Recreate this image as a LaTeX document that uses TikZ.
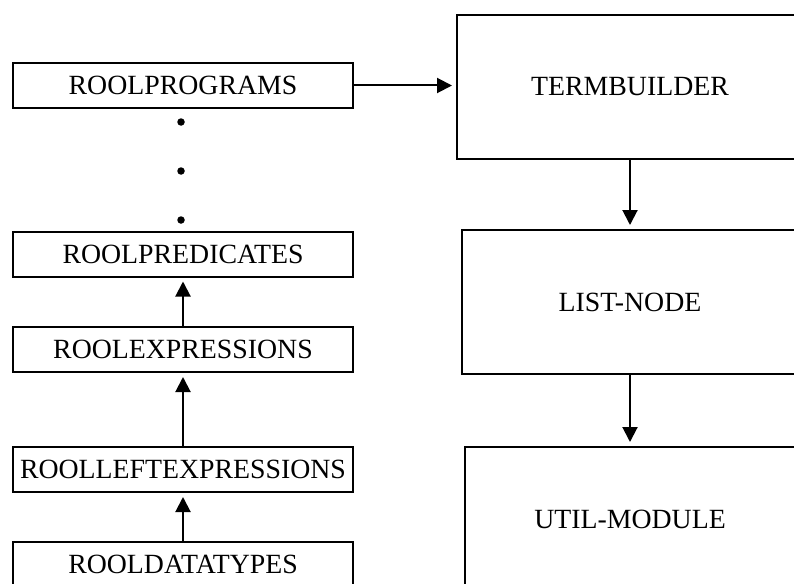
\documentclass[tikz,border=0pt]{standalone}
\usepackage{fontspec}
\setmainfont{Liberation Serif}
\usetikzlibrary{arrows.meta}
\begin{document}
\begin{tikzpicture}[x=1pt,y=-1pt,
  box/.style={draw, line width=2pt, rectangle, inner sep=0pt, font=\fontsize{27.8}{33}\selectfont},
  lbox/.style={box, minimum width=340pt, minimum height=45pt},
  rbox/.style={box, minimum height=144pt},
  arr/.style={line width=2pt, -{Triangle[length=15pt,width=15pt]}, shorten >=4pt},
  dotn/.style={circle, fill, inner sep=0pt, minimum size=7.5pt}]
\useasboundingbox (0,0) rectangle (794,583);
\clip (0,0) rectangle (794,583);
% left column
\node[lbox] (prog) at (183,85.5) {ROOLPROGRAMS};
\node[lbox] (pred) at (183,254) {ROOLPREDICATES};
\node[lbox] (expr) at (183,349.5) {ROOLEXPRESSIONS};
\node[lbox] (lexp) at (183,469.5) {ROOLLEFTEXPRESSIONS};
\node[lbox] (dtyp) at (183,564.5) {ROOLDATATYPES};
% dots
\node[dotn] (d1) at (181,122) {};
\node[dotn] (d2) at (181,171) {};
\node[dotn] (d3) at (181,220) {};
% right column
\node[rbox, minimum width=346pt] (tb) at (630,87) {TERMBUILDER};
\node[rbox, minimum width=336pt] (ln) at (630,302) {LIST-NODE};
\node[rbox, minimum width=330pt] (um) at (630,519) {UTIL-MODULE};
% connectors
\draw[arr] (prog.east) -- (prog.east -| tb.west);
\draw[arr] (tb.south) -- (ln.north);
\draw[arr] (ln.south) -- (um.north);
\draw[arr] (expr.north) -- (pred.south);
\draw[arr] (lexp.north) -- (expr.south);
\draw[arr] (dtyp.north) -- (lexp.south);
\end{tikzpicture}
\end{document}
